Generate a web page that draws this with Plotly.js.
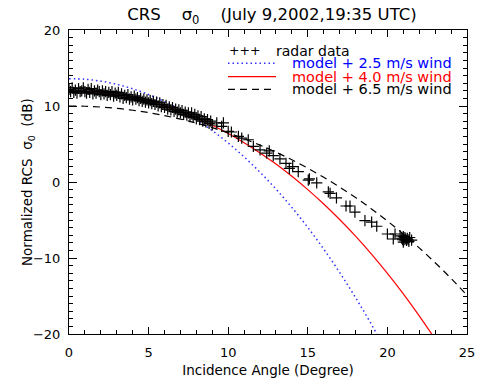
<!DOCTYPE html>
<html>
<head>
<meta charset="utf-8">
<script src="https://cdn.plot.ly/plotly-3.0.1.min.js"></script>
<style>html,body{margin:0;padding:0;background:#fff;}#chart{width:478px;height:378px;}</style>
</head>
<body>
<div id="chart"></div>
<script>
// Model curves (angle in degrees, sigma0 in dB)
var modelAngle = [0,1,2,3,4,5,6,7,8,9,10,11,12,13,14,15,16,17,18,19,20,21,22,23,24,25];
var wind25 = [13.6,13.52,13.27,12.85,12.27,11.51,10.59,9.49,8.22,6.76,5.13,3.30,1.28,-0.93,-3.35,-5.98,-8.83,-11.90,-15.21,-18.75,-22.56,-26.6,-31.0,-35.7,-40.7,-46.0];
var wind40 = [12.0,11.95,11.78,11.51,11.11,10.62,10.01,9.27,8.43,7.46,6.38,5.17,3.83,2.36,0.75,-1.00,-2.89,-4.93,-7.12,-9.48,-12.01,-14.71,-17.61,-20.69,-24.0,-27.5];
var wind65 = [10.0,9.97,9.86,9.69,9.44,9.13,8.74,8.28,7.75,7.15,6.46,5.70,4.85,3.93,2.92,1.81,0.62,-0.67,-2.05,-3.54,-5.13,-6.84,-8.67,-10.62,-12.69,-14.91];

// Radar data
var radarAngle = [0.0,0.1,0.2,0.3,0.4,0.5,0.6,0.7,0.8,0.9,1.0,1.1,1.2,1.3,1.4,1.5,1.6,1.7,1.8,1.9,
  2.0,2.1,2.2,2.3,2.4,2.5,2.6,2.7,2.8,2.9,3.0,3.1,3.2,3.3,3.4,3.5,3.6,3.7,3.8,3.9,
  4.0,4.1,4.2,4.3,4.4,4.5,4.6,4.7,4.8,4.9,5.0,5.1,5.2,5.3,5.4,5.5,5.6,5.7,5.8,5.9,
  6.0,6.1,6.2,6.3,6.4,6.5,6.6,6.7,6.8,6.9,7.0,7.1,7.2,7.3,7.4,7.5,7.6,7.7,7.8,7.9,
  8.0,8.1,8.2,8.3,8.4,8.5,8.6,8.7,8.8,8.9,9.0,
  9.28,9.59,9.7,10.0,10.2,10.64,10.85,11.26,11.58,12.0,12.42,12.58,12.83,13.25,13.63,13.84,14.05,14.4,
  15.03,15.1,15.56,16.29,16.4,16.8,17.4,17.65,17.96,18.59,19.01,19.33,20.0,20.48,20.37,
  20.8,20.9,21.0,21.05,21.1,21.15,20.95,21.2,21.25,21.3,21.35,21.0,21.52,21.4];
var radarSigma = [12.2,11.9,12.4,11.8,12.1,11.7,12.3,11.9,12.0,12.4,11.9,11.7,12.2,11.8,12.3,11.6,12.0,11.7,12.1,11.9,
  11.5,12.0,11.6,11.9,11.4,11.8,11.5,11.9,11.3,11.7,11.4,11.8,11.2,11.6,11.0,11.4,11.1,11.5,10.9,11.2,
  10.8,11.3,10.9,11.1,10.7,11.0,10.6,10.9,10.5,10.8,10.4,10.7,10.3,10.6,10.2,10.5,10.0,10.4,9.9,10.2,
  9.8,10.1,9.6,9.9,9.5,9.8,9.3,9.6,9.2,9.5,9.1,9.4,8.9,9.2,8.8,9.1,8.6,9.1,8.5,8.9,
  8.3,8.7,8.2,8.6,8.0,8.3,7.9,8.2,7.7,8.0,7.5,
  7.77,7.33,7.77,6.67,6.58,6.0,5.78,5.56,4.68,4.23,3.79,4.09,3.48,3.03,2.46,1.80,2.02,1.36,
  0.24,0.4,-0.11,-1.31,-1.5,-2.1,-3.16,-3.16,-3.96,-5.07,-5.29,-5.82,-6.84,-6.84,-7.5,
  -7.1,-7.4,-7.2,-7.6,-7.3,-7.5,-7.6,-7.7,-7.4,-7.6,-7.8,-7.9,-7.64,-7.3];

var xTicks = [0,5,10,15,20,25];
var yTicks = [-20,-10,0,10,20];

var FONT = 'DejaVu Sans, Verdana, sans-serif';
var NB = '\u00a0';

var traces = [
  {x: modelAngle, y: wind25, mode: 'lines', line: {color: '#3030ff', width: 1.5, dash: '1.5px,3px', shape: 'spline'}, name: 'model + 2.5 m/s wind', showlegend: false},
  {x: modelAngle, y: wind40, mode: 'lines', line: {color: '#ff0000', width: 1.2, shape: 'spline'}, name: 'model + 4.0 m/s wind', showlegend: false},
  {x: modelAngle, y: wind65, mode: 'lines', line: {color: '#000000', width: 1.2, dash: '7px,5px', shape: 'spline'}, name: 'model + 6.5 m/s wind', showlegend: false},
  {x: radarAngle, y: radarSigma, mode: 'markers', marker: {symbol: 'cross-thin', size: 8, line: {color: '#000', width: 1.2}}, name: 'radar data', showlegend: false}
];

function px2x(px){ return (px - 69) / 398; }
function py2y(py){ return (334 - py) / 304; }

var rows = [50.7, 63.3, 76.7, 89.3];
var legendText = ['radar' + NB + 'data', 'model + 2.5 m/s wind', 'model + 4.0 m/s wind', 'model + 6.5 m/s wind'];
var legendColor = ['#000', '#0000ff', '#ff0000', '#000'];

var annotations = [
  {xref: 'paper', yref: 'paper', x: px2x(227), y: py2y(rows[0]), xanchor: 'left', yanchor: 'middle', text: '+++', showarrow: false, font: {family: FONT, size: 12.5, color: '#000'}},
  {xref: 'paper', yref: 'paper', x: px2x(274), y: py2y(rows[0]), xanchor: 'left', yanchor: 'middle', text: legendText[0], showarrow: false, font: {family: FONT, size: 14, color: legendColor[0]}},
  // y-axis title
  {xref: 'paper', yref: 'paper', x: px2x(28), y: 0.5, xanchor: 'center', yanchor: 'middle', textangle: -90,
   text: 'Normalized RCS' + NB + NB + 'σ<sub>0</sub>' + NB + NB + '(dB)', showarrow: false, font: {family: FONT, size: 13.5, color: '#000'}}
];
for (var i = 1; i < 4; i++) {
  annotations.push({xref: 'paper', yref: 'paper', x: px2x(454), y: py2y(rows[i]), xanchor: 'right', yanchor: 'middle', text: legendText[i], showarrow: false, font: {family: FONT, size: 14.5, color: legendColor[i]}});
}

var shapes = [
  {type: 'line', xref: 'paper', yref: 'paper', x0: px2x(228), x1: px2x(276), y0: py2y(rows[1]), y1: py2y(rows[1]), line: {color: '#3030ff', width: 1.5, dash: '1.5px,3px'}},
  {type: 'line', xref: 'paper', yref: 'paper', x0: px2x(228), x1: px2x(276), y0: py2y(rows[2]), y1: py2y(rows[2]), line: {color: '#ff0000', width: 1.2}},
  {type: 'line', xref: 'paper', yref: 'paper', x0: px2x(228), x1: px2x(276), y0: py2y(rows[3]), y1: py2y(rows[3]), line: {color: '#000', width: 1.2, dash: '7px,5px'}}
];

var layout = {
  width: 478, height: 378,
  margin: {l: 69, r: 11, t: 30, b: 44, pad: 0},
  paper_bgcolor: '#fff', plot_bgcolor: '#fff',
  font: {family: FONT, size: 13, color: '#000'},
  title: {text: 'CRS' + NB + NB + NB + NB + 'σ<sub>0</sub>' + NB + NB + NB + NB + '(July 9,2002,19:35 UTC)', x: 0.569, xanchor: 'center', y: 0.962, yanchor: 'middle', font: {family: FONT, size: 16.5, color: '#000'}},
  xaxis: {range: [0, 25], tickvals: xTicks, ticktext: xTicks.map(String), ticks: 'inside', ticklen: 7, tickwidth: 1, tickcolor: '#000',
    showline: true, linecolor: '#000', linewidth: 1, mirror: 'allticks', showgrid: false, zeroline: false,
    ticklabelstandoff: 6,
    minor: {dtick: 1, ticks: 'inside', ticklen: 4, tickcolor: '#000', showgrid: false},
    tickfont: {family: FONT, size: 13}, title: {text: 'Incidence Angle (Degree)', font: {family: FONT, size: 13.5}, standoff: 6}},
  yaxis: {range: [-20, 20], tickvals: yTicks, ticktext: yTicks.map(function(v){return v < 0 ? '\u2212' + Math.abs(v) : String(v);}), ticks: 'inside', ticklen: 8, tickwidth: 1, tickcolor: '#000',
    showline: true, linecolor: '#000', linewidth: 1, mirror: 'allticks', showgrid: false, zeroline: false,
    ticklabelstandoff: 5,
    minor: {dtick: 1, ticks: 'inside', ticklen: 4, tickcolor: '#000', showgrid: false},
    tickfont: {family: FONT, size: 13}},
  annotations: annotations,
  shapes: shapes
};

Plotly.newPlot('chart', traces, layout, {staticPlot: true, displayModeBar: false});
</script>
</body>
</html>
